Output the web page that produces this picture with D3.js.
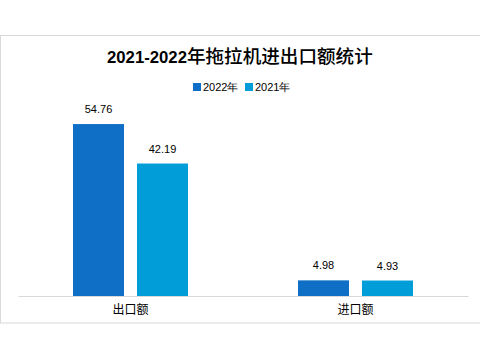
<!DOCTYPE html>
<html><head><meta charset="utf-8">
<script src="https://cdn.jsdelivr.net/npm/d3@7"></script>
<style>body{margin:0;background:#fff}svg{display:block}</style>
</head><body>
<script>
const categories = ["出口额", "进口额"];
const seriesNames = ["2022年", "2021年"];
const values2022 = [54.76, 4.98];
const values2021 = [42.19, 4.93];
const colors = ["#0F6FC6", "#009DD9"];
const titleNum = "2021-2022";
const titleCJK = "年拖拉机进出口额统计";

const W = 480, H = 360;
const svg = d3.select("body").append("svg").attr("width", W).attr("height", H);
svg.append("rect").attr("width", W).attr("height", H).attr("fill", "#fff");
svg.append("rect").attr("x", 0.5).attr("y", 35.5).attr("width", 520).attr("height", 287.5)
  .attr("fill", "#fff").attr("stroke", "#d9d9d9").attr("stroke-width", 1);

const font = "'Liberation Sans', Arial, sans-serif";
const cjkFont = "'Noto Sans CJK SC', sans-serif";

// title: digits then CJK, fitted to the reference widths
const title = svg.append("text").attr("x", 107).attr("y", 63).attr("fill", "#000");
const tNum = title.append("tspan").attr("font-family", font).attr("font-weight", "bold")
  .attr("font-size", 17).text(titleNum);
const tCjk = title.append("tspan").attr("font-family", cjkFont).attr("font-weight", 500)
  .attr("font-size", 22).text(titleCJK);
const numLen = tNum.node().getComputedTextLength();
if (numLen > 0) tNum.attr("font-size", 17 * 80 / numLen);
const cjkLen = tCjk.node().getComputedTextLength();
if (cjkLen > 0) tCjk.attr("font-size", 22 * 186 / cjkLen);

// legend
const legendX = [193, 245];
seriesNames.forEach((n, i) => {
  svg.append("rect").attr("x", legendX[i]).attr("y", 83).attr("width", 8).attr("height", 8).attr("fill", colors[i]);
  svg.append("text").attr("x", legendX[i] + 10).attr("y", 91).attr("font-family", font)
    .attr("font-size", 11).attr("fill", "#000").text(n);
});

const x0 = d3.scaleBand().domain(categories).range([18, 468]);
const y = d3.scaleLinear().domain([0, 60]).range([296, 107.6]);
const offsets = [-57.5, 6.5]; // bar left relative to band center
const barW = 51;

const data = categories.map((c, i) => ({c, vals: [values2022[i], values2021[i]]}));
data.forEach(d => {
  const cx = x0(d.c) + x0.bandwidth() / 2;
  d.vals.forEach((v, j) => {
    svg.append("rect").attr("x", cx + offsets[j]).attr("y", y(v)).attr("width", barW)
      .attr("height", y(0) - y(v)).attr("fill", colors[j]);
    svg.append("text").attr("x", cx + offsets[j] + barW / 2).attr("y", y(v) - 11)
      .attr("text-anchor", "middle").attr("font-family", font).attr("font-size", 11)
      .attr("fill", "#000").text(v.toFixed(2));
  });
});

// axis
const axis = svg.append("g").attr("transform", "translate(0,296)")
  .call(d3.axisBottom(x0).tickSize(0).tickPadding(9));
axis.select(".domain").attr("stroke", "#d9d9d9").attr("stroke-width", 1);
axis.selectAll("text").attr("font-family", cjkFont).attr("font-size", 12).attr("fill", "#000");
</script>
</body></html>
